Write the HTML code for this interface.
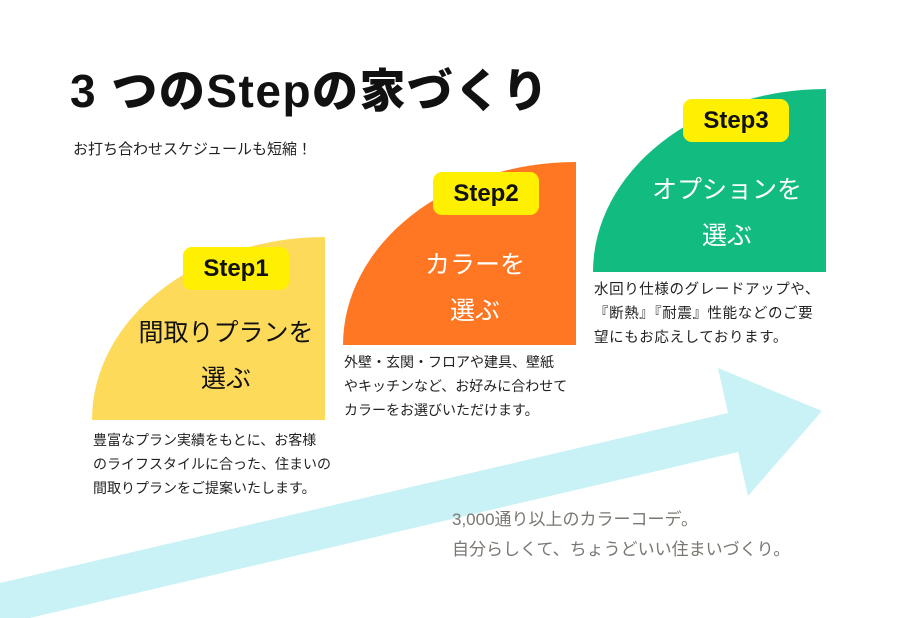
<!DOCTYPE html>
<html><head><meta charset="utf-8"><style>
*{margin:0;padding:0;box-sizing:border-box}
body{width:900px;height:618px;overflow:hidden;background:#fff;position:relative;font-family:"Liberation Sans","Noto Sans CJK JP",sans-serif;color:#111}
.a{position:absolute;white-space:nowrap}
.shape{position:absolute;width:233px;height:183px;border-top-left-radius:100% 100%}
.badge{position:absolute;width:106px;height:43px;background:#FFEF00;border-radius:9px;font-weight:900;font-size:24px;text-align:center;line-height:43px;color:#111}
.big{position:absolute;text-align:center;font-size:25px;line-height:46px;white-space:nowrap}
.desc{position:absolute;font-size:14px;line-height:24px;white-space:nowrap;color:#222}
</style></head><body>
<svg class="a" style="left:0;top:0" width="900" height="618">
<polygon points="0,583 728,413 718,368 822,411 748,496 738,452 0,625" fill="#C8F2F5"/>
</svg>
<div class="a" style="left:70px;top:61px;font-size:46px;font-weight:900;line-height:60px;letter-spacing:1.5px">3 つのStepの家づくり</div>
<div class="a" style="left:73px;top:138px;font-size:15px;line-height:24px;color:#222">お打ち合わせスケジュールも短縮！</div>

<div class="shape" style="left:92px;top:237px;background:#FEDA5A"></div>
<div class="shape" style="left:343px;top:162px;background:#FF7722"></div>
<div class="shape" style="left:593px;top:89px;background:#12BC81"></div>

<div class="badge" style="left:183px;top:247px">Step1</div>
<div class="badge" style="left:433px;top:172px">Step2</div>
<div class="badge" style="left:683px;top:99px">Step3</div>

<div class="big" style="left:126px;top:310px;width:200px;color:#111">間取りプランを<br>選ぶ</div>
<div class="big" style="left:375px;top:242px;width:200px;color:#fff">カラーを<br>選ぶ</div>
<div class="big" style="left:627px;top:167px;width:200px;color:#fff">オプションを<br>選ぶ</div>

<div class="desc" style="left:93px;top:428px">豊富なプラン実績をもとに、お客様<br>のライフスタイルに合った、住まいの<br>間取りプランをご提案いたします。</div>
<div class="desc" style="left:344px;top:350px">外壁・玄関・フロアや建具、壁紙<br>やキッチンなど、お好みに合わせて<br>カラーをお選びいただけます。</div>
<div class="desc" style="left:594px;top:278px;font-size:14.5px;letter-spacing:0.6px">水回り仕様のグレードアップや、<br>『断熱』『耐震』性能などのご要<br>望にもお応えしております。</div>

<div class="a" style="left:452px;top:505px;font-size:17px;line-height:30px;color:#7a7670">3,000通り以上のカラーコーデ。<br>自分らしくて、ちょうどいい住まいづくり。</div>
</body></html>
